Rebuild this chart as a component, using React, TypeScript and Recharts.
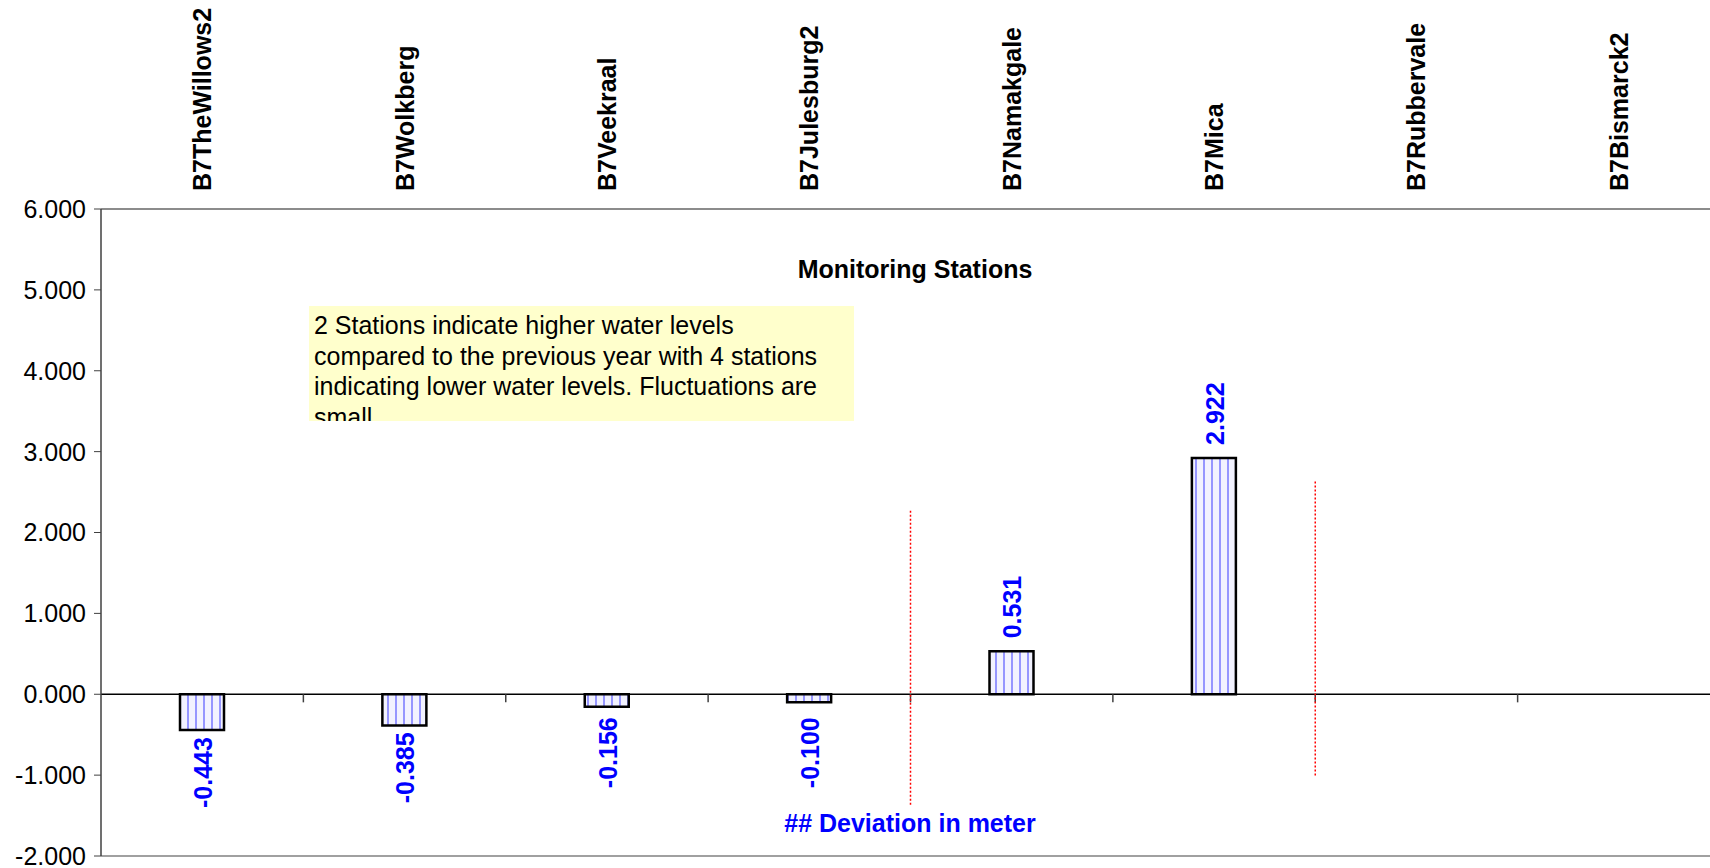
import { BarChart, Bar, XAxis, YAxis, ReferenceLine, LabelList } from 'recharts';

const stations = [
  'B7TheWillows2',
  'B7Wolkberg',
  'B7Veekraal',
  'B7Julesburg2',
  'B7Namakgale',
  'B7Mica',
  'B7Rubbervale',
  'B7Bismarck2',
];
const deviation: (number | null)[] = [-0.443, -0.385, -0.156, -0.1, 0.531, 2.922, null, null];
const yTicks = [-2, -1, 0, 1, 2, 3, 4, 5, 6];
// red dotted divider lines, drawn at the start of a station's band
const dividers = [
  { station: 'B7Namakgale', top: 2.27, bottom: -1.39 },
  { station: 'B7Rubbervale', top: 2.63, bottom: -1.01 },
];
const noteLines = [
  '2 Stations indicate higher water levels',
  'compared to the previous year with 4 stations',
  'indicating lower water levels. Fluctuations are',
  'small.',
];

const data = stations.map((name, i) => ({ name, value: deviation[i] }));

const FONT = '"Liberation Sans", Arial, Helvetica, sans-serif';
const FS = 25;

const StationTick = ({ x, y, payload }: any) => (
  <text
    x={x}
    y={y}
    transform={`rotate(-90, ${x}, ${y})`}
    textAnchor="start"
    dominantBaseline="central"
    fontFamily={FONT}
    fontWeight="bold"
    fontSize={FS}
    fill="#000"
  >
    {payload.value}
  </text>
);

const ValueLabel = (props: any) => {
  const vb = props.viewBox ?? props;
  const { value } = props;
  if (value == null) return null;
  const cx = vb.x + vb.width / 2 + 1;
  const top = Math.min(vb.y, vb.y + vb.height);
  const bottom = Math.max(vb.y, vb.y + vb.height);
  const up = value >= 0;
  // small bars keep their label a little way off the zero line
  const ty = up ? Math.min(top - 13, bottom - 24) : Math.max(bottom + 7, top + 23);
  return (
    <text
      x={cx}
      y={ty}
      transform={`rotate(-90, ${cx}, ${ty})`}
      textAnchor={up ? 'start' : 'end'}
      dominantBaseline="central"
      fontFamily={FONT}
      fontWeight="bold"
      fontSize={FS}
      fill="#0000ff"
    >
      {Number(value).toFixed(3)}
    </text>
  );
};

const App = () => {
  return (
    <div
      style={{
        position: 'absolute',
        left: 0,
        top: 0,
        width: 1710,
        height: 868,
        overflow: 'hidden',
        background: '#fff',
        fontFamily: FONT,
      }}
    >
      <svg width={0} height={0} style={{ position: 'absolute' }}>
        <defs>
          <pattern id="stripes" patternUnits="userSpaceOnUse" width={8} height={8}>
            <rect width={8} height={8} fill="#f2f2ff" />
            <line x1={4} y1={0} x2={4} y2={8} stroke="#8c8cff" strokeWidth={1.8} />
          </pattern>
        </defs>
      </svg>
      <BarChart width={1720} height={868} data={data} margin={{ top: 0, right: 0, bottom: 0, left: 0 }}>
        <XAxis
          xAxisId="cat"
          dataKey="name"
          orientation="top"
          height={209}
          interval={0}
          tickSize={0}
          tickMargin={18}
          tick={<StationTick />}
          axisLine={{ stroke: '#8c8c8c', strokeWidth: 2 }}
        />
        <XAxis
          xAxisId="base"
          dataKey="name"
          orientation="bottom"
          height={12}
          tick={false}
          tickLine={false}
          axisLine={{ stroke: '#a0a0a0', strokeWidth: 2 }}
        />
        <YAxis
          domain={[-2, 6]}
          ticks={yTicks}
          interval={0}
          width={101}
          tickFormatter={(v: number) => v.toFixed(3)}
          tick={{ fontSize: FS, fill: '#000', fontFamily: FONT }}
          tickSize={7}
          tickMargin={8}
          stroke="#404040"
          axisLine={{ stroke: '#404040', strokeWidth: 1.5 }}
          allowDataOverflow
        />
        <ReferenceLine xAxisId="cat" y={0} stroke="#000" strokeWidth={1.5} />
        {stations.slice(1).map((s) => (
          <ReferenceLine
            key={`tick-${s}`}
            xAxisId="cat"
            position="start"
            segment={[
              { x: s, y: 0 },
              { x: s, y: -0.1 },
            ]}
            stroke="#404040"
            strokeWidth={1.5}
          />
        ))}
        {dividers.map((d) => (
          <ReferenceLine
            key={`div-${d.station}`}
            xAxisId="cat"
            position="start"
            segment={[
              { x: d.station, y: d.top },
              { x: d.station, y: d.bottom },
            ]}
            stroke="#ff0000"
            strokeDasharray="2 2"
            strokeWidth={1.5}
          />
        ))}
        <Bar
          xAxisId="cat"
          dataKey="value"
          fill="url(#stripes)"
          stroke="#000"
          strokeWidth={2.5}
          barSize={44}
          isAnimationActive={false}
        >
          <LabelList dataKey="value" content={<ValueLabel />} />
        </Bar>
      </BarChart>
      <div
        style={{
          position: 'absolute',
          left: 0,
          width: 1830,
          top: 253,
          textAlign: 'center',
          fontSize: FS,
          fontWeight: 'bold',
          color: '#000',
          lineHeight: '32px',
        }}
      >
        Monitoring Stations
      </div>
      <div
        style={{
          position: 'absolute',
          left: 309,
          top: 306,
          width: 545,
          height: 115,
          overflow: 'hidden',
          background: '#ffffcc',
          fontSize: FS,
          lineHeight: '30.5px',
          color: '#000',
          paddingLeft: 5,
          paddingTop: 4,
          boxSizing: 'border-box',
          whiteSpace: 'nowrap',
        }}
      >
        {noteLines.map((line) => (
          <div key={line}>{line}</div>
        ))}
      </div>
      <div
        style={{
          position: 'absolute',
          left: 0,
          width: 1820,
          top: 807,
          textAlign: 'center',
          fontSize: FS,
          fontWeight: 'bold',
          color: '#0000ff',
          lineHeight: '32px',
        }}
      >
        ## Deviation in meter
      </div>
    </div>
  );
};

export default App;
